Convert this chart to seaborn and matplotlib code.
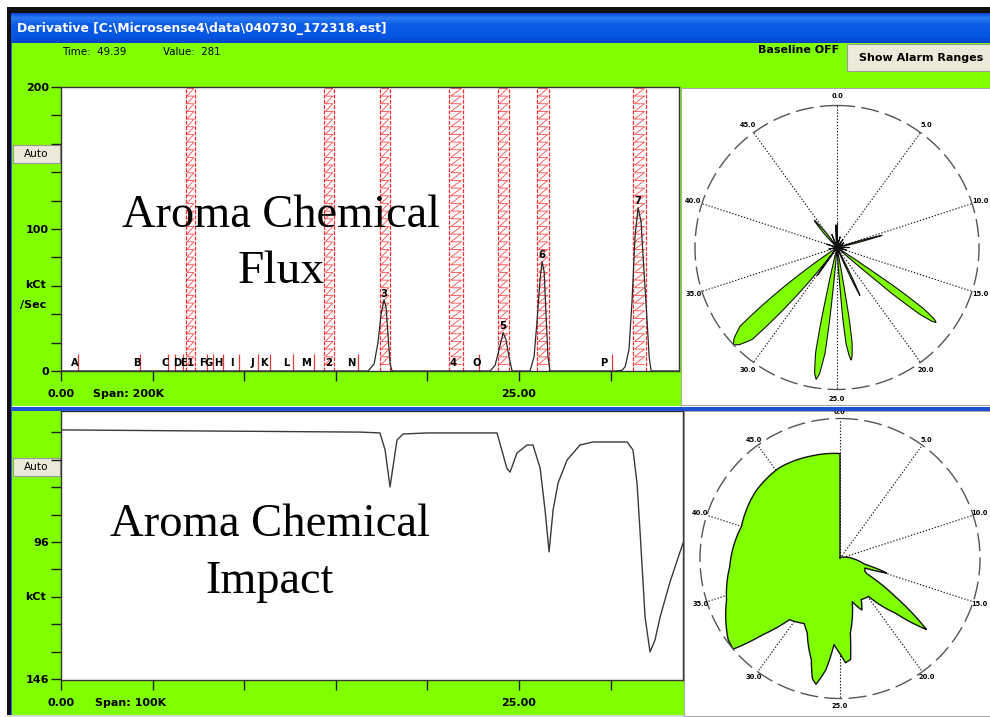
import numpy as np
import matplotlib
matplotlib.use("Agg")
import matplotlib.pyplot as plt
import seaborn as sns
from matplotlib.patches import Rectangle, PathPatch
from matplotlib.path import Path

# ---------------- data ----------------
# derivative (flux) trace, kCt/Sec versus time
flux_t = [0.0, 16.76, 17.09, 17.30, 17.47, 17.63, 17.74, 17.85, 17.96, 18.07,
          23.42, 23.69, 23.91, 24.13, 24.29, 24.45, 24.62,
          25.60, 25.82, 25.98, 26.15, 26.26, 26.37, 26.47, 26.58, 26.69,
          30.24, 30.62, 30.79, 31.00, 31.17, 31.33, 31.50, 31.66, 31.82, 31.99, 32.10, 32.21,
          33.73]
flux_v = [0, 0, 5, 20, 40, 50, 45, 25, 5, 0,
          0, 4, 15, 27, 22, 10, 0,
          0, 10, 35, 65, 77, 70, 40, 10, 0,
          0, 0.5, 3, 15, 50, 95, 115, 105, 70, 35, 10, 0,
          0]

# impact trace, kCt versus time (axis drawn inverted)
impact_t = [0.0, 8.0, 16.32, 17.41, 17.69, 17.96, 18.12, 18.34, 18.67, 19.98,
            23.80, 24.34, 24.51, 24.89, 25.44, 25.76, 26.15, 26.42, 26.64, 26.86,
            27.13, 27.62, 28.33, 29.04, 30.90, 31.22, 31.44, 31.61, 31.88, 32.15,
            32.42, 32.70, 33.24, 33.95]
impact_v = [55.1, 55.5, 55.9, 56.2, 62.4, 75.9, 68.6, 58.8, 56.6, 56.2,
            56.2, 69.2, 70.5, 63.5, 60.6, 60.6, 69.0, 84.3, 99.6, 84.3,
            74.5, 66.1, 60.6, 59.5, 59.5, 62.4, 74.5, 92.7, 123.4, 136.1,
            131.8, 123.4, 110.6, 96.4]

# alarm ranges (time windows)
alarm_lo = [6.82, 14.36, 17.41, 21.18, 23.85, 25.98, 31.22]
alarm_hi = [7.31, 14.90, 17.96, 21.94, 24.45, 26.64, 31.93]

# numbered peaks
peak_ids = ["1", "2", "3", "4", "5", "6", "7"]
peak_t = [7.04, 14.63, 17.63, 21.40, 24.13, 26.26, 31.50]
peak_h = [0, 0, 50, 0, 27, 77, 115]

# lettered event markers
marker_ids = list("ABCDEFGHIJKLMNOP")
marker_text_t = [0.76, 4.15, 5.68, 6.33, 6.66, 7.75, 8.08, 8.57, 9.33, 10.43,
                 11.08, 12.28, 13.37, 15.83, 22.71, 29.64]
marker_line_t = [0.93, 4.31, 5.84, 6.22, 6.66, 7.97, 8.30, 8.84, 9.72, 10.75,
                 11.41, 12.66, 13.81, 16.21, 22.82, 30.08]

# flux rose (time around the dial, radius as fraction of the outer ring)
flux_rose_t = [0.0, 0.15, 0.35,
               2.0, 2.3, 2.6,
               5.0, 5.2, 5.4,
               7.6, 7.8, 8.0,
               10.0, 10.3, 10.4, 10.5, 10.9,
               12.3, 12.5, 12.7,
               14.4, 14.6, 14.8,
               17.05, 17.2, 17.25, 17.4, 17.55, 17.65, 17.75, 17.9, 18.05, 18.1, 18.25,
               21.1, 21.35, 21.45, 21.55, 21.8,
               23.45, 23.6, 23.65, 23.75, 23.9, 24.0, 24.1, 24.25, 24.35, 24.4, 24.55,
               25.6, 25.75, 25.8, 25.9, 26.1, 26.25, 26.4, 26.6, 26.7, 26.75, 26.9,
               29.7, 29.9, 30.1,
               30.2, 30.33, 30.67, 30.93, 31.27, 31.5, 31.73, 32.07, 32.33, 32.67, 32.8,
               35.8, 36.0, 36.2,
               39.8, 40.0, 40.2,
               43.8, 44.1, 44.4, 44.5, 44.65, 45.0, 45.3,
               46.8, 47.0, 47.2,
               49.0, 49.3, 49.55, 49.8, 50.0]
flux_rose_r = [0.0, 0.17, 0.0,
               0.0, 0.08, 0.0,
               0.0, 0.07, 0.0,
               0.0, 0.06, 0.0,
               0.0, 0.25, 0.33, 0.25, 0.0,
               0.0, 0.09, 0.0,
               0.0, 0.07, 0.0,
               0.0, 0.3, 0.5, 0.75, 0.85, 0.875, 0.85, 0.75, 0.5, 0.3, 0.0,
               0.0, 0.3, 0.375, 0.3, 0.0,
               0.0, 0.3, 0.5, 0.68, 0.77, 0.8, 0.77, 0.68, 0.5, 0.3, 0.0,
               0.0, 0.3, 0.5, 0.75, 0.9, 0.94, 0.9, 0.75, 0.5, 0.3, 0.0,
               0.0, 0.24, 0.0,
               0.0, 0.17, 0.58, 0.88, 0.97, 1.0, 0.97, 0.88, 0.58, 0.17, 0.0,
               0.0, 0.06, 0.0,
               0.0, 0.08, 0.0,
               0.0, 0.15, 0.24, 0.25, 0.2, 0.1, 0.0,
               0.0, 0.1, 0.0,
               0.0, 0.1, 0.16, 0.1, 0.0]

# impact rose outline
impact_rose_t = [0.0, 6.0, 10.0, 11.5, 12.8, 13.6, 14.3, 14.9, 15.4, 16.3,
                 16.6, 17.3, 17.97, 18.7, 19.85, 21.2, 21.8, 22.8, 23.9, 24.17,
                 24.57, 25.0, 25.55, 26.0, 26.5, 26.8, 27.2, 28.3, 29.0, 30.5,
                 31.3, 31.9, 32.5, 34.7, 36.9, 40.0, 42.9, 45.3, 47.9, 50.0]
impact_rose_r = [0.0, 0.01, 0.03, 0.06, 0.10, 0.14, 0.18, 0.35, 0.19, 0.20,
                 0.22, 0.48, 0.80, 0.555, 0.34, 0.33, 0.40, 0.32, 0.537, 0.725,
                 0.745, 0.68, 0.616, 0.80, 0.915, 0.88, 0.75, 0.58, 0.53, 0.567,
                 0.774, 1.0, 0.987, 0.863, 0.79, 0.74, 0.77, 0.78, 0.76, 0.75]

rose_labels = ["0.0", "5.0", "10.0", "15.0", "20.0", "25.0", "30.0", "35.0", "40.0", "45.0"]
flux_ytick_labels = [0, 100, 200]
impact_ytick_labels = [96, 146]
time_tick_labels = {0: "0.00", 25: "25.00"}

# ---------------- style ----------------
sns.set_theme(style="ticks")
plt.rcParams["font.family"] = ["DejaVu Sans"]
plt.rcParams["path.simplify"] = False
for key in ("text.color", "axes.labelcolor", "xtick.color", "ytick.color"):
    plt.rcParams[key] = "black"

GREEN = "#80FF00"
BTN = "#ECE9D8"
RED = "#FF2A2A"
W, H = 990, 717

fig = plt.figure(figsize=(W / 100, H / 100), dpi=100)
fig.patch.set_facecolor("white")
renderer = fig.canvas.get_renderer()


def rect(x, y, w, h):
    return [x / W, 1 - (y + h) / H, w / W, h / H]


def fitted(ax, x, y, s, width, size=10, **kw):
    t = ax.text(x, y, s, fontsize=size, **kw)
    w = t.get_window_extent(renderer=renderer).width
    t.set_fontsize(size * width / w)
    return t


# ---------------- window chrome ----------------
bg = fig.add_axes([0, 0, 1, 1], zorder=0)
bg.axis("off")


def box(x, y, w, h, fc, ec="none", lw=0.0, z=1):
    bg.add_patch(Rectangle((x, y), w, h, facecolor=fc, edgecolor=ec, lw=lw, zorder=z))


# title bar gradient
stops = [0.0, 0.15, 0.4, 0.8, 1.0]
cols = np.array([[10, 75, 214], [44, 123, 242], [10, 91, 232], [5, 85, 226], [4, 68, 200]]) / 255
pos = np.linspace(0, 1, 30)
grad = np.stack([np.interp(pos, stops, cols[:, k]) for k in range(3)], axis=1)[:, None, :]
bg.imshow(grad, extent=(7, 990, 43, 13), aspect="auto", origin="upper", zorder=1)

box(7, 7, 983, 6, "#111111")
box(7, 13, 4, 704, "#111111")
box(11, 43, 1.2, 674, "#3060D0")
box(12, 43, 978, 672, GREEN)
box(7, 715, 983, 2, "#D8D8D8")

fitted(bg, 17, 28.5, r"Derivative [C:\Microsense4\data\040730_172318.est]", 371,
       color="white", fontweight="bold", va="center", ha="left", zorder=3)

bg.text(62, 52, "Time:  49.39", fontsize=7.4, va="center", ha="left", zorder=3)
bg.text(163, 52, "Value:  281", fontsize=7.4, va="center", ha="left", zorder=3)
bg.text(758, 50, "Baseline OFF", fontsize=8, fontweight="bold", va="center", ha="left", zorder=3)

box(847, 44, 145, 27, BTN, ec="#9A9A9A", lw=0.8, z=2)
fitted(bg, 921, 58, "Show Alarm Ranges", 125, fontweight="bold", va="center", ha="center", zorder=3)

for yb in (145, 458):
    box(13, yb, 47, 18, BTN, ec="#9A9A9A", lw=0.8, z=2)
    bg.text(36, yb + 9, "Auto", fontsize=7.6, va="center", ha="center", zorder=3)

bg.text(35, 285, "kCt", fontsize=8, fontweight="bold", va="center", ha="center", zorder=3)
bg.text(33, 305, "/Sec", fontsize=8, fontweight="bold", va="center", ha="center", zorder=3)
bg.text(35, 597, "kCt", fontsize=8, fontweight="bold", va="center", ha="center", zorder=3)
bg.text(93, 394, "Span: 200K", fontsize=8, fontweight="bold", va="center", ha="left", zorder=3)
bg.text(95, 703, "Span: 100K", fontsize=8, fontweight="bold", va="center", ha="left", zorder=3)

# white panels behind the dials
box(681, 88, 309, 317, "white", ec="#A8A8A8", lw=0.8, z=2)
box(684, 411, 306, 305, "white", ec="#A8A8A8", lw=0.8, z=2)

bg.set_xlim(0, W)
bg.set_ylim(H, 0)


def style_axis(ax, xmax, pad_x):
    ax.set_facecolor("white")
    ax.set_xlim(0, xmax)
    xt = list(range(0, 31, 5))
    ax.set_xticks(xt)
    ax.set_xticklabels([time_tick_labels.get(v, "") for v in xt], fontweight="bold")
    ax.tick_params(axis="both", direction="out", length=7.2, width=1.0, color="#202020",
                   labelsize=8, labelcolor="black")
    ax.tick_params(axis="y", pad=1.4)
    ax.tick_params(axis="x", pad=pad_x)
    for sp in ax.spines.values():
        sp.set_color("#353535")
        sp.set_linewidth(1.0)
    ax.set_xlabel("")
    ax.set_ylabel("")


# ---------------- flux chromatogram ----------------
ax1 = fig.add_axes(rect(61, 87, 618, 284), zorder=2)
style_axis(ax1, 33.73, 5.8)
ax1.set_ylim(0, 200)
yt = list(range(0, 201, 20))
ax1.set_yticks(yt)
ax1.set_yticklabels([str(v) if v in flux_ytick_labels else "" for v in yt], fontweight="bold")

# alarm windows: dashed red borders with a red "Z" hatch between them
for lo, hi in zip(alarm_lo, alarm_hi):
    for xe in (lo, hi):
        ax1.plot([xe, xe], [0, 200], color=RED, lw=0.9, ls=(0, (3, 1.2)), zorder=1)
    inset = 0.12 * (hi - lo)
    ys = np.arange(199, 1, -5.4)
    zx = np.empty(2 * len(ys))
    zy = np.empty(2 * len(ys))
    zx[0::2], zx[1::2] = lo + inset, hi - inset
    zy[0::2], zy[1::2] = ys, ys
    ax1.plot(zx, zy, color=RED, lw=0.6, zorder=1, alpha=0.85)

ax1.vlines(marker_line_t, 0, 12, color="#E03A3A", lw=0.9, zorder=2)
for s, t in zip(marker_ids, marker_text_t):
    ax1.text(t, 2.2, s, ha="center", va="bottom", fontsize=7.2, fontweight="bold", zorder=4)

sns.lineplot(x=flux_t, y=flux_v, ax=ax1, color="#2A2A2A", lw=0.9,
             estimator=None, sort=False, zorder=3)

for s, t, h in zip(peak_ids, peak_t, peak_h):
    ax1.text(t, max(h + 1.0, 2.2), s, ha="center", va="bottom", fontsize=7.2,
             fontweight="bold", zorder=4)
ax1.set_xlabel("")
ax1.set_ylabel("")

# ---------------- impact trace ----------------
ax2 = fig.add_axes(rect(61, 411, 622, 269), zorder=2)
style_axis(ax2, 33.95, 6.1)
ax2.set_ylim(146.36, 48.2)
yt2 = list(range(56, 147, 10))
ax2.set_yticks(yt2)
ax2.set_yticklabels([str(v) if v in impact_ytick_labels else "" for v in yt2], fontweight="bold")
sns.lineplot(x=impact_t, y=impact_v, ax=ax2, color="#3A3A3A", lw=1.0,
             estimator=None, sort=False, zorder=3)
ax2.set_xlabel("")
ax2.set_ylabel("")


# ---------------- dials ----------------
def rose_axes(cx, cy, R, label_r):
    ax = fig.add_axes(rect(cx - R, cy - R, 2 * R, 2 * R), projection="polar", zorder=3)
    ax.set_theta_zero_location("N")
    ax.set_theta_direction(-1)
    ax.set_ylim(0, 1)
    ax.set_xticks([])
    ax.set_yticks([])
    ax.grid(False)
    ax.spines["polar"].set_visible(False)
    ax.patch.set_alpha(0)
    for k, lab in enumerate(rose_labels):
        th = np.deg2rad(36 * k)
        ax.plot([th, th], [0, 1], ls=(0, (1.2, 1.6)), color="#111111", lw=0.8,
                clip_on=False, zorder=1)
        ax.text(th, label_r, lab, ha="center", va="center", fontsize=4.8,
                fontweight="bold", zorder=5)
    ring = np.linspace(0, 2 * np.pi, 400)
    ax.plot(ring, np.ones_like(ring), color="#555555", lw=1.0, ls=(0, (13, 4.5)),
            clip_on=False, zorder=4)
    return ax


def rose_patch(ax, t, r, lw):
    th = np.asarray(t, float) / 50.0 * 2 * np.pi
    verts = np.column_stack([th, np.asarray(r, float)])
    verts = np.vstack([verts, [th[-1], 0.0], [th[0], 0.0]])
    patch = PathPatch(Path(verts, _interpolation_steps=30), facecolor=GREEN,
                      edgecolor="#111111", lw=lw, clip_on=False, zorder=3)
    ax.add_patch(patch)


axr1 = rose_axes(837, 247.5, 142, 1.065)
rose_patch(axr1, flux_rose_t, flux_rose_r, 0.8)

axr2 = rose_axes(840, 558.5, 140, 1.05)
rose_patch(axr2, impact_rose_t, impact_rose_r, 1.0)

# ---------------- overlay: panel divider and captions ----------------
ov = fig.add_axes([0, 0, 1, 1], zorder=10)
ov.axis("off")
ov.patch.set_alpha(0)
ov.add_patch(Rectangle((12, 405.5), 978, 1.5, facecolor="white", edgecolor="none"))
ov.add_patch(Rectangle((12, 407), 978, 3.5, facecolor="#1F4FD2", edgecolor="none"))
serif = ["Liberation Serif", "DejaVu Serif"]
fitted(ov, 281, 216, "Aroma Chemical", 318, family=serif, ha="center", va="center", color="black")
fitted(ov, 281, 272, "Flux", 87, family=serif, ha="center", va="center", color="black")
fitted(ov, 270, 525, "Aroma Chemical", 320, family=serif, ha="center", va="center", color="black")
fitted(ov, 270, 582, "Impact", 128, family=serif, ha="center", va="center", color="black")
ov.set_xlim(0, W)
ov.set_ylim(H, 0)

fig.savefig("out.png", dpi=100)
